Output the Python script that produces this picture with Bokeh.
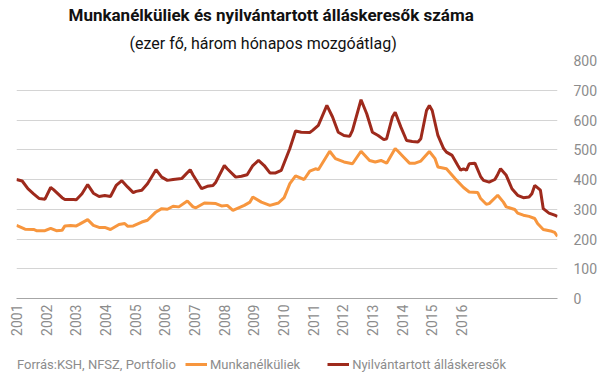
from math import pi
from bokeh.plotting import figure
from bokeh.layouts import column
from bokeh.models import Range1d, FixedTicker, Legend, LegendItem, Title, Label
from bokeh.embed import file_html
from bokeh.resources import INLINE

TITLE = "Munkanélküliek és nyilvántartott álláskeresők száma"
SUBTITLE = "(ezer fő, három hónapos mozgóátlag)"
SOURCE = "Forrás:KSH, NFSZ, Portfolio"
SERIES_NAMES = ["Munkanélküliek", "Nyilvántartott álláskeresők"]
YEAR_LABELS = [str(y) for y in range(2001, 2017)]
Y_TICKS = [0, 100, 200, 300, 400, 500, 600, 700, 800]

# month index (0 = first observation) and value, thousand persons
MUNK_MONTH = [0, 3, 6, 7, 10, 12, 14, 16, 17, 19, 21, 22, 25, 27, 29, 31, 33, 36, 38, 39,
              41, 44, 46, 49, 51, 53, 55, 57, 60, 62, 63, 66, 70, 72, 74, 76, 80, 82, 83, 86,
              89, 92, 94, 96, 98, 101, 103, 105, 106, 110, 112, 115, 118, 121, 124, 126, 128, 130, 133, 134,
              136, 138, 140, 142, 145, 147, 148, 151, 152, 154, 157, 159, 162, 163, 165, 166, 169, 171, 172, 175,
              176, 178, 180, 182, 183, 185, 188, 189, 190]
MUNK_VALUE = [246, 233, 232, 228, 228, 236, 228, 229, 244, 245, 244, 249, 265, 246, 239, 239, 232, 249, 252, 243,
              244, 257, 263, 291, 302, 300, 310, 308, 328, 308, 305, 321, 319, 311, 313, 296, 313, 324, 341, 324,
              313, 321, 339, 386, 412, 400, 428, 436, 433, 495, 470, 459, 453, 495, 464, 459, 464, 455, 504, 495,
              475, 455, 455, 462, 494, 470, 442, 436, 425, 403, 373, 358, 356, 336, 317, 319, 347, 324, 308, 299,
              287, 280, 276, 269, 252, 232, 226, 222, 209]

NYIL_MONTH = [0, 2, 4, 6, 8, 10, 12, 13, 16, 17, 20, 21, 23, 25, 27, 29, 31, 33, 35, 37,
              39, 41, 42, 44, 46, 49, 51, 53, 55, 58, 61, 62, 65, 67, 69, 70, 73, 74, 77, 79,
              81, 83, 85, 87, 89, 91, 93, 96, 98, 100, 103, 104, 106, 109, 111, 113, 115, 117, 118, 121,
              123, 125, 127, 129, 130, 132, 133, 135, 137, 139, 141, 142, 144, 145, 146, 148, 150, 151, 153, 155,
              156, 157, 158, 159, 161, 163, 164, 166, 168, 169, 170, 172, 174, 176, 178, 180, 181, 182, 184, 185,
              187, 189, 190]
NYIL_VALUE = [400, 395, 369, 352, 336, 334, 373, 366, 339, 333, 333, 332, 352, 383, 354, 343, 346, 343, 380, 396,
              375, 356, 360, 364, 386, 433, 408, 397, 400, 403, 433, 415, 369, 377, 380, 391, 447, 436, 408, 411,
              416, 447, 464, 447, 422, 422, 431, 504, 563, 559, 558, 565, 582, 649, 610, 559, 548, 545, 565, 668,
              621, 559, 548, 534, 537, 610, 626, 576, 531, 528, 526, 537, 632, 649, 632, 548, 504, 492, 481, 447,
              431, 436, 431, 453, 455, 410, 397, 391, 400, 417, 436, 414, 369, 347, 339, 341, 352, 380, 364, 302,
              287, 280, 276]

N_MONTHS = 191
LABEL_STEP = 10.42  # months between the drawn year labels

ORANGE = "#F7963E"
DARKRED = "#9E2A1C"
GRAY = "#8c8c8c"
FONT = "Roboto"

p = figure(width=605, height=348, x_range=Range1d(0, N_MONTHS - 1), y_range=Range1d(0, 800),
           y_axis_location="right", output_backend="svg", toolbar_location=None,
           min_border_left=16, min_border_right=48, min_border_top=60, min_border_bottom=50)
p.outline_line_color = None
p.background_fill_color = "white"
p.border_fill_color = "white"

# titles
p.title.text = TITLE
p.title.text_font = FONT
p.title.text_font_style = "bold"
p.title.text_font_size = "17px"
p.title.text_color = "#111111"
p.title.align = "left"
p.title.offset = 52
p.title.standoff = 0
sub = Title(text=SUBTITLE, text_font=FONT, text_font_style="normal", text_font_size="16px",
            text_color="#111111", align="left", offset=113, standoff=15)
p.add_layout(sub, "above")

ticks = [k * LABEL_STEP for k in range(len(YEAR_LABELS))]
p.xaxis.ticker = FixedTicker(ticks=ticks)
p.xaxis.major_label_overrides = {t: lab for t, lab in zip(ticks, YEAR_LABELS)}
p.xaxis.major_label_orientation = pi / 2
p.xaxis.major_tick_line_color = None
p.xaxis.minor_tick_line_color = None
p.xaxis.major_tick_out = 0
p.xaxis.major_label_standoff = 6
p.xaxis.axis_line_color = "#a6a6a6"
p.xaxis.major_label_text_font = FONT
p.xaxis.major_label_text_font_size = "14px"
p.xaxis.major_label_text_color = GRAY

p.yaxis.ticker = FixedTicker(ticks=Y_TICKS)
p.yaxis.major_tick_line_color = None
p.yaxis.minor_tick_line_color = None
p.yaxis.major_tick_out = 0
p.yaxis.axis_line_color = None
p.yaxis.major_label_standoff = 16
p.yaxis.major_label_text_font = FONT
p.yaxis.major_label_text_font_size = "14px"
p.yaxis.major_label_text_color = GRAY

p.xgrid.visible = False
p.ygrid.grid_line_color = "#d4d4d4"

p.line(MUNK_MONTH, MUNK_VALUE, line_color=ORANGE, line_width=3)
p.line(NYIL_MONTH, NYIL_VALUE, line_color=DARKRED, line_width=3)

# footer strip (its frame is aligned with the chart frame: 16..557 px)
f = figure(width=605, height=30, x_range=Range1d(16, 557), y_range=Range1d(0, 30),
           output_backend="svg", toolbar_location=None, min_border=0)
f.outline_line_color = None
f.axis.visible = False
f.grid.visible = False
nan = float("nan")
d1 = f.line([nan], [nan], line_color=ORANGE, line_width=3)
d2 = f.line([nan], [nan], line_color=DARKRED, line_width=3)
f.add_layout(Label(x=16.5, y=14, text=SOURCE, text_font=FONT, text_font_size="13px",
                   text_color=GRAY, text_align="left", text_baseline="middle"))
legend = Legend(items=[LegendItem(label=SERIES_NAMES[0], renderers=[d1]),
                       LegendItem(label=SERIES_NAMES[1], renderers=[d2])],
                orientation="horizontal", location=(169, 5),
                glyph_width=22, glyph_height=18, label_height=18, label_standoff=3, spacing=27,
                padding=0, margin=0, border_line_color=None, background_fill_alpha=0,
                label_text_font=FONT, label_text_font_size="13px", label_text_color=GRAY)
f.add_layout(legend, "center")

layout = column(p, f, spacing=0)
open("out.html", "w").write(file_html(layout, INLINE))
